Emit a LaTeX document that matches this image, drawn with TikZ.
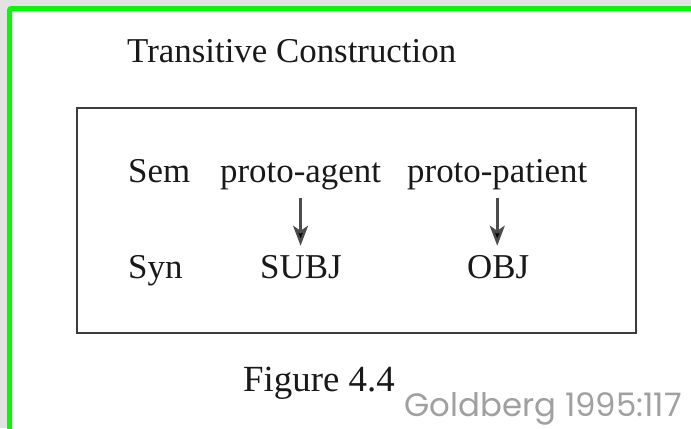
\documentclass[tikz,border=0pt]{standalone}
\usepackage{fontspec}
\setmainfont{Liberation Serif}
\newfontfamily\gfont{Poppins}
\usetikzlibrary{arrows.meta}
\definecolor{bggray}{RGB}{226,226,226}
\definecolor{framegreen}{RGB}{10,245,10}
\definecolor{boxline}{RGB}{60,60,60}
\definecolor{credit}{RGB}{160,160,160}
\begin{document}
\begin{tikzpicture}[x=1bp,y=-1bp,
  lbl/.style={inner sep=0pt,anchor=base west,font=\fontsize{35}{40}\selectfont,text=black!90},
  maparrow/.style={draw=black!70,line width=2.5bp,-{Stealth[length=20bp,width=15bp,inset=5bp,fill=black]}}]
\useasboundingbox (0,0) rectangle (691,428);
\fill[bggray] (0,0) rectangle (691,428);
\draw[framegreen,line width=5bp,rounded corners=2bp,fill=white] (9.5,8.5) rectangle (720,460);
% box
\draw[boxline,line width=2.8bp] (77,108) rectangle (636,333);
% texts
\node[lbl] (title) at (127,62) {Transitive Construction};
\node[lbl] (sem) at (128,182) {Sem};
\node[lbl] (pa) at (220,182) {proto-agent};
\node[lbl] (pp) at (407,182) {proto-patient};
\node[lbl] (syn) at (128,278) {Syn};
\node[lbl] (subj) at (260,278) {SUBJ};
\node[lbl] (obj) at (467,278) {OBJ};
\node[lbl,font=\fontsize{37}{42}\selectfont] (fig) at (243,391) {Figure 4.4};
\node[inner sep=0pt,anchor=base east,font=\gfont\fontsize{32.5}{37}\selectfont,text=credit] (cred) at (682,416) {Goldberg 1995:117};
% arrows
\draw[maparrow,shorten <=8bp,shorten >=9bp] (pa.south) -- (pa.south |- subj.north);
\draw[maparrow,shorten <=8bp,shorten >=9bp] (pp.south) -- (pp.south |- obj.north);
\end{tikzpicture}
\end{document}
